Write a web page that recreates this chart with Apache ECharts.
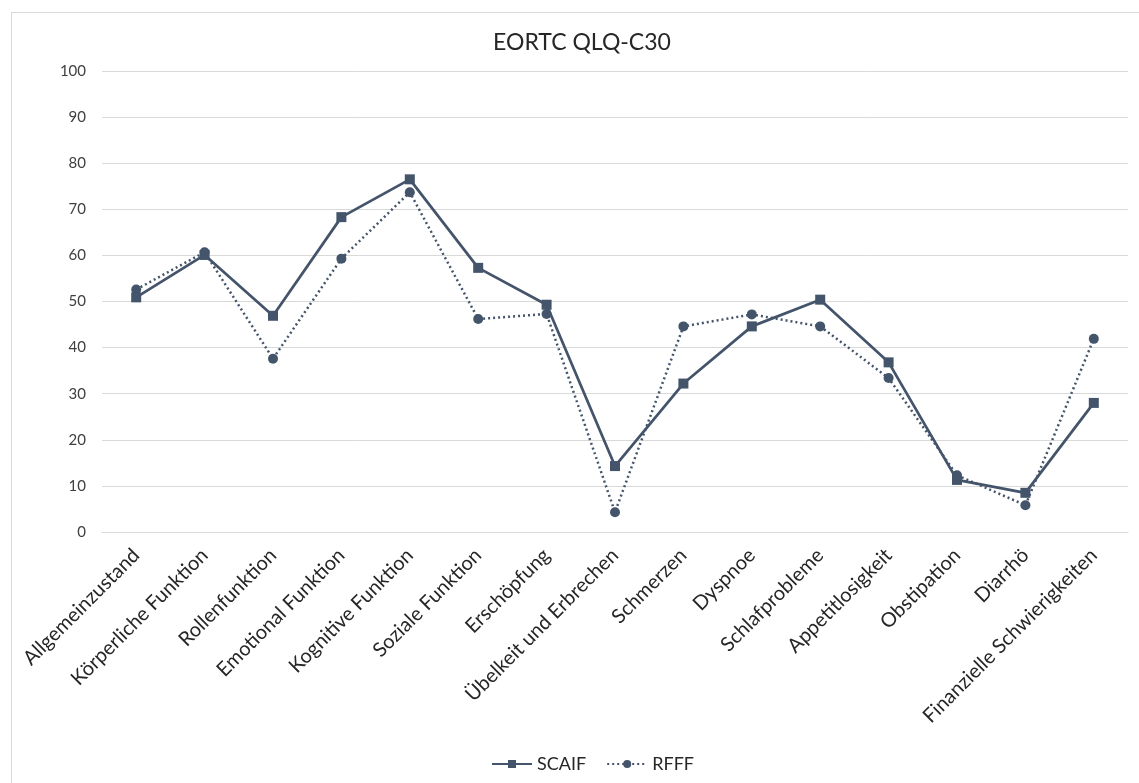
<!DOCTYPE html>
<html>
<head>
<meta charset="utf-8">
<script src="https://cdn.jsdelivr.net/npm/echarts@6/dist/echarts.min.js"></script>
<style>
  html, body { margin: 0; padding: 0; background: #fff; }
  #frame { position: absolute; left: 11px; top: 12px; width: 1140px; height: 780px; border: 1px solid #d9d9d9; box-sizing: border-box; }
  #chart { position: absolute; left: 0; top: 0; width: 1139px; height: 783px; }
</style>
</head>
<body>
<div id="frame"></div>
<div id="chart"></div>
<script>
// EORTC QLQ-C30 scale scores
const categories = [
  'Allgemeinzustand', 'Körperliche Funktion', 'Rollenfunktion', 'Emotional Funktion',
  'Kognitive Funktion', 'Soziale Funktion', 'Erschöpfung', 'Übelkeit und Erbrechen',
  'Schmerzen', 'Dyspnoe', 'Schlafprobleme', 'Appetitlosigkeit', 'Obstipation',
  'Diarrhö', 'Finanzielle Schwierigkeiten'
];
const scaif = [50.9, 60.1, 46.9, 68.3, 76.5, 57.3, 49.3, 14.3, 32.2, 44.6, 50.4, 36.8, 11.3, 8.5, 28.0];
const rfff  = [52.6, 60.7, 37.6, 59.3, 73.7, 46.2, 47.3, 4.3, 44.6, 47.2, 44.6, 33.4, 12.3, 5.8, 41.9];
const yTicks = { min: 0, max: 100, interval: 10 };

const ink = '#44546a';
const font = 'Lato';
const chart = echarts.init(document.getElementById('chart'), null, { renderer: 'canvas' });
chart.setOption({
  backgroundColor: 'transparent',
  animation: false,
  title: {
    text: 'EORTC QLQ-C30',
    left: 577,
    textAlign: 'center',
    top: 26,
    textStyle: { fontFamily: font, fontSize: 23, fontWeight: 'normal', color: '#262626' }
  },
  legend: {
    bottom: 5,
    left: 486,
    itemGap: 20,
    itemWidth: 40,
    itemHeight: 10,
    textStyle: { fontFamily: font, fontSize: 18, color: '#262626' },
    data: ['SCAIF', 'RFFF']
  },
  grid: { left: 102, right: 11, top: 71, bottom: 251, containLabel: false },
  xAxis: {
    type: 'category',
    data: categories,
    boundaryGap: true,
    axisLine: { show: true, lineStyle: { color: '#d9d9d9' } },
    axisTick: { show: false },
    axisLabel: {
      rotate: 45,
      interval: 0,
      margin: 20,
      fontFamily: font,
      fontSize: 20,
      color: '#262626'
    }
  },
  yAxis: {
    type: 'value',
    min: yTicks.min,
    max: yTicks.max,
    interval: yTicks.interval,
    axisLine: { show: false },
    axisTick: { show: false },
    splitLine: { lineStyle: { color: '#d9d9d9', width: 1 } },
    axisLabel: { margin: 16, fontFamily: font, fontSize: 15, color: '#404040' }
  },
  series: [
    {
      name: 'SCAIF',
      type: 'line',
      data: scaif,
      symbol: 'rect',
      symbolSize: 10,
      itemStyle: { color: ink },
      lineStyle: { color: ink, width: 2.75, type: 'solid' },
      z: 3
    },
    {
      name: 'RFFF',
      type: 'line',
      data: rfff,
      symbol: 'circle',
      symbolSize: 10,
      itemStyle: { color: ink },
      lineStyle: { color: ink, width: 2.5, type: [2, 3] },
      z: 2
    }
  ]
});
</script>
</body>
</html>
